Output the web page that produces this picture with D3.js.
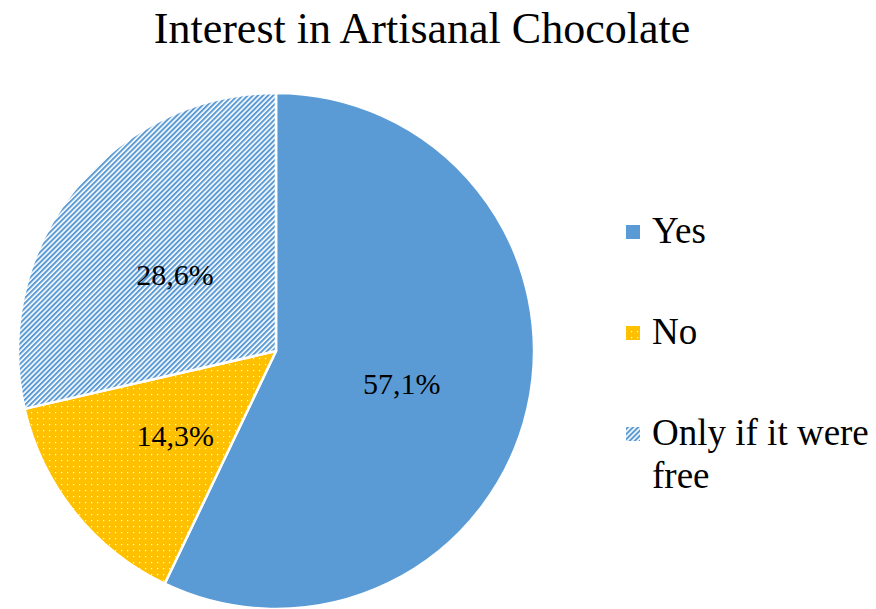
<!DOCTYPE html>
<html>
<head>
<meta charset="utf-8">
<script src="https://cdn.jsdelivr.net/npm/d3@7"></script>
<style>
  body { margin: 0; background: #fff; }
</style>
</head>
<body>
<script>
var width = 876;
var height = 609;

// data
var categories = ["Yes", "No", "Only if it were free"];
var values = [57.1, 14.3, 28.6];
var labels = ["57,1%", "14,3%", "28,6%"];

var serif = "'Liberation Serif', 'Times New Roman', serif";

var cx = 276, cy = 351, radius = 258;

var svg = d3.select("body").append("svg")
    .attr("width", width)
    .attr("height", height)
    .attr("font-family", serif);

var defs = svg.append("defs");

// diagonal hatch for "Only if it were free"
var hatch = defs.append("pattern")
    .attr("id", "hatch")
    .attr("patternUnits", "userSpaceOnUse")
    .attr("width", 3.6)
    .attr("height", 3.6)
    .attr("patternTransform", "rotate(45)");
hatch.append("rect").attr("width", 3.6).attr("height", 3.6).attr("fill", "#fff");
hatch.append("rect").attr("width", 2).attr("height", 3.6).attr("fill", "#5b9bd5");

// white dots on yellow for "No"
var dots = defs.append("pattern")
    .attr("id", "dots")
    .attr("patternUnits", "userSpaceOnUse")
    .attr("width", 12)
    .attr("height", 12);
dots.append("rect").attr("width", 12).attr("height", 12).attr("fill", "#ffc000");
[[1, 1], [7, 7], [7, 1], [1, 7]].forEach(function (p) {
    dots.append("rect").attr("x", p[0]).attr("y", p[1])
        .attr("width", 1.2).attr("height", 1.2).attr("fill", "#fff");
});

var fills = ["#5b9bd5", "url(#dots)", "url(#hatch)"];

// title
svg.append("text")
    .attr("x", 422)
    .attr("y", 43)
    .attr("text-anchor", "middle")
    .style("font-size", "44px")
    .text("Interest in Artisanal Chocolate");

var pie = d3.pie().sort(null).value(function (d) { return d; });
var arc = d3.arc().innerRadius(0).outerRadius(radius);

var g = svg.append("g")
    .attr("transform", "translate(" + cx + "," + cy + ")");

var arcs = pie(values);

g.selectAll("path")
    .data(arcs)
    .enter().append("path")
    .attr("d", arc)
    .attr("fill", function (d, i) { return fills[i]; })
    .attr("stroke", "#fff")
    .attr("stroke-width", 2.5)
    .attr("stroke-linejoin", "round");

g.selectAll("text.lbl")
    .data(arcs)
    .enter().append("text")
    .attr("class", "lbl")
    .attr("transform", function (d) { return "translate(" + arc.centroid(d) + ")"; })
    .attr("text-anchor", "middle")
    .attr("dy", "0.47em")
    .style("font-size", "30px")
    .text(function (d, i) { return labels[i]; });

// legend
var legendY = [232, 333, 434];
var legend = svg.append("g");

legend.selectAll("rect")
    .data(categories)
    .enter().append("rect")
    .attr("x", 626)
    .attr("y", function (d, i) { return legendY[i] - 7; })
    .attr("width", 14)
    .attr("height", 14)
    .attr("fill", function (d, i) { return fills[i]; });

var lt = legend.selectAll("text")
    .data(categories)
    .enter().append("text")
    .attr("x", 652)
    .attr("y", function (d, i) { return legendY[i] + 11; })
    .style("font-size", "37px");

lt.each(function (d) {
    var t = d3.select(this);
    if (d === "Only if it were free") {
        t.append("tspan").attr("x", 652).text("Only if it were");
        t.append("tspan").attr("x", 652).attr("dy", 43).text("free");
    } else {
        t.text(d);
    }
});
</script>
</body>
</html>
